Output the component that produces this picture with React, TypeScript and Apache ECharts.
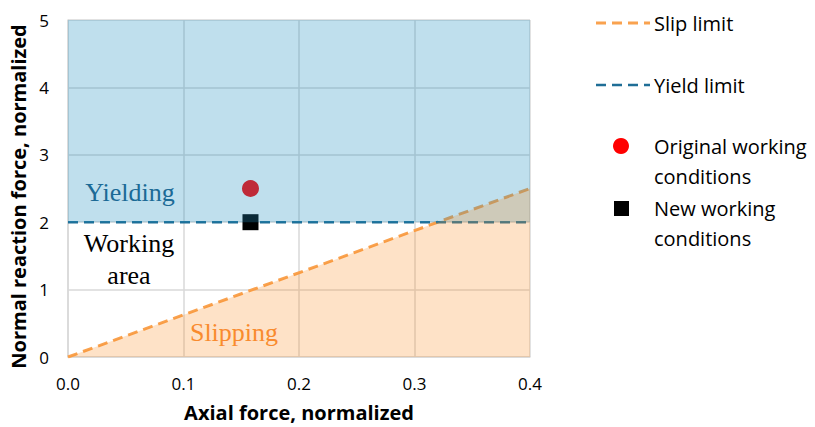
import React, { useEffect, useRef } from "react";
import * as echarts from "echarts";

const xTicks = [0, 0.1, 0.2, 0.3, 0.4];
const yTicks = [0, 1, 2, 3, 4, 5];
const slipX = [0, 0.4];
const slipY = [0, 2.5];
const yieldX = [0, 0.4];
const yieldY = [2, 2];
const originalPoint = [0.158, 2.5];
const newPoint = [0.158, 2.0];

const SANS = "'Open Sans', 'Noto Sans', sans-serif";
const SERIF = "'Liberation Serif', 'DejaVu Serif', serif";

export default function App() {
  const ref = useRef<HTMLDivElement>(null);
  useEffect(() => {
    document.body.style.margin = "0";
    if (!ref.current) return;
    const chart = echarts.init(ref.current, undefined, { renderer: "svg" });
    const slipData = slipX.map((x, i) => [x, slipY[i]]);
    const yieldData = yieldX.map((x, i) => [x, yieldY[i]]);
    chart.setOption({
      animation: false,
      backgroundColor: "#ffffff",
      grid: { left: 68, top: 20, right: 285, bottom: 70, containLabel: false },
      xAxis: {
        type: "value",
        min: xTicks[0],
        max: xTicks[xTicks.length - 1],
        interval: 0.1,
        name: "Axial force, normalized",
        nameLocation: "middle",
        nameGap: 45,
        nameTextStyle: { fontFamily: SANS, fontWeight: "bold", fontSize: 20, color: "#000" },
        axisLine: { show: true, lineStyle: { color: "#d9d9d9", width: 1.5 } },
        axisTick: { show: false },
        axisLabel: {
          margin: 18,
          fontFamily: SANS,
          fontSize: 17,
          color: "#000",
          formatter: (v: number) => v.toFixed(1),
        },
        splitLine: { show: true, lineStyle: { color: "#d9d9d9", width: 1.5 } },
      },
      yAxis: {
        type: "value",
        min: yTicks[0],
        max: yTicks[yTicks.length - 1],
        interval: 1,
        name: "Normal reaction force, normalized",
        nameLocation: "middle",
        nameGap: 38,
        nameTextStyle: { fontFamily: SANS, fontWeight: "bold", fontSize: 20, color: "#000", padding: [0, 16, 0, 0] },
        axisLine: { show: true, lineStyle: { color: "#d9d9d9", width: 1.5 } },
        axisTick: { show: false },
        axisLabel: { margin: 19, fontFamily: SANS, fontSize: 17, color: "#000" },
        splitLine: { show: true, lineStyle: { color: "#d9d9d9", width: 1.5 } },
      },
      series: [
        {
          name: "Original working conditions",
          type: "scatter",
          data: [originalPoint],
          symbol: "circle",
          symbolSize: 17,
          itemStyle: { color: "#ff0000", opacity: 1 },
          z: 2,
        },
        {
          name: "New working conditions",
          type: "scatter",
          data: [newPoint],
          symbol: "rect",
          symbolSize: 16,
          itemStyle: { color: "#000000", opacity: 1 },
          z: 2,
        },
        {
          name: "Slip limit",
          type: "line",
          data: slipData,
          symbol: "none",
          lineStyle: { color: "#f9a24f", width: 3, type: [10, 6] },
          z: 2,
        },
        {
          name: "Yield limit",
          type: "line",
          data: yieldData,
          symbol: "none",
          lineStyle: { color: "#1f6e96", width: 2.5, type: [10, 6] },
          z: 2,
        },
        {
          name: "Yielding region",
          type: "line",
          data: yieldData,
          symbol: "none",
          lineStyle: { width: 0 },
          areaStyle: { origin: "end", color: "rgba(34,145,193,0.29)", opacity: 1 },
          z: 3,
          silent: true,
        },
        {
          name: "Slipping region",
          type: "line",
          data: slipData,
          symbol: "none",
          lineStyle: { width: 0 },
          areaStyle: { origin: "start", color: "rgba(251,140,30,0.25)", opacity: 1 },
          z: 3,
          silent: true,
        },
      ],
      graphic: [
        {
          type: "text",
          z: 100,
          style: { text: "Yielding", x: 130, y: 192, align: "center", verticalAlign: "middle", font: `26px ${SERIF}`, fill: "#1b6a96" },
        },
        {
          type: "text",
          z: 100,
          style: { text: "Working\narea", x: 129, y: 259, align: "center", verticalAlign: "middle", font: `26px ${SERIF}`, lineHeight: 32, fill: "#000" },
        },
        {
          type: "text",
          z: 100,
          style: { text: "Slipping", x: 234, y: 332, align: "center", verticalAlign: "middle", font: `26px ${SERIF}`, fill: "#f98b2e" },
        },
        // legend
        {
          type: "line",
          z: 100,
          shape: { x1: 596, y1: 23, x2: 650, y2: 23 },
          style: { stroke: "#f9a24f", lineWidth: 3, lineDash: [10, 6] },
        },
        {
          type: "text",
          z: 100,
          style: { text: "Slip limit", x: 654, y: 23, verticalAlign: "middle", font: `20px ${SANS}`, fill: "#000" },
        },
        {
          type: "line",
          z: 100,
          shape: { x1: 596, y1: 85, x2: 650, y2: 85 },
          style: { stroke: "#1f6e96", lineWidth: 2.5, lineDash: [10, 6] },
        },
        {
          type: "text",
          z: 100,
          style: { text: "Yield limit", x: 654, y: 85, verticalAlign: "middle", font: `20px ${SANS}`, fill: "#000" },
        },
        {
          type: "circle",
          z: 100,
          shape: { cx: 621, cy: 146, r: 8 },
          style: { fill: "#ff0000" },
        },
        {
          type: "text",
          z: 100,
          style: { text: "Original working\nconditions", x: 654, y: 161, verticalAlign: "middle", font: `20px ${SANS}`, lineHeight: 30, fill: "#000" },
        },
        {
          type: "rect",
          z: 100,
          shape: { x: 614, y: 201, width: 15, height: 15 },
          style: { fill: "#000000" },
        },
        {
          type: "text",
          z: 100,
          style: { text: "New working\nconditions", x: 654, y: 223, verticalAlign: "middle", font: `20px ${SANS}`, lineHeight: 30, fill: "#000" },
        },
      ],
    });
    return () => chart.dispose();
  }, []);
  return <div ref={ref} style={{ width: 815, height: 427 }} />;
}
